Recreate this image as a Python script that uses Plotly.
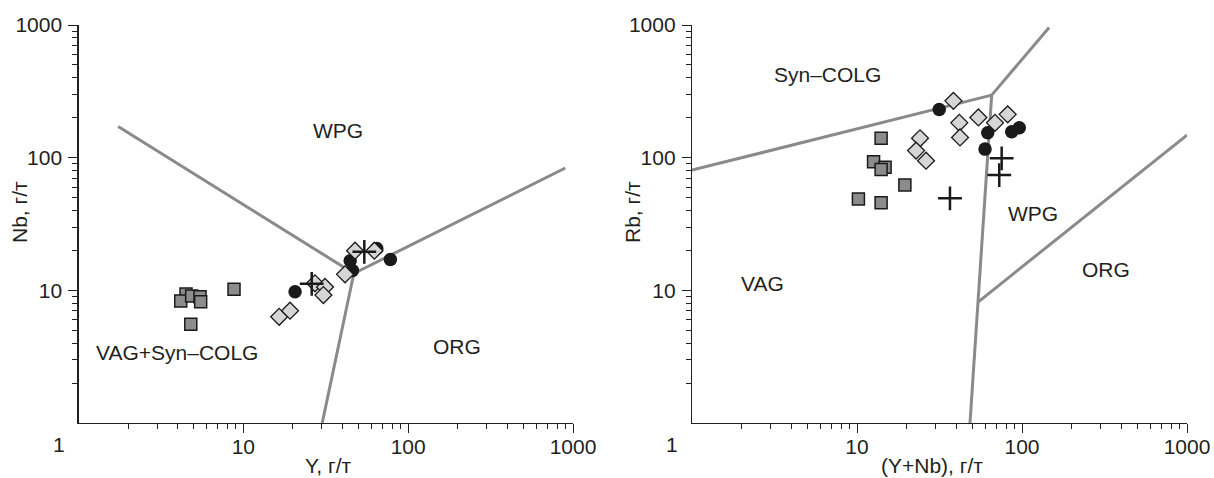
import plotly.graph_objects as go

# ---------------- data: left panel (Nb vs Y) ----------------
L_sq_x = [4.49, 4.17, 4.86, 5.46, 5.51, 4.80, 8.78]
L_sq_y = [9.38, 8.30, 9.06, 8.95, 8.20, 5.54, 10.2]
L_di_x = [16.5, 19.2, 27.2, 31.3, 30.6, 41.4, 47.6, 62.4]
L_di_y = [6.32, 7.02, 11.3, 10.6, 9.22, 13.2, 19.9, 19.9]
L_ci_x = [20.6, 44.5, 45.9, 78.0, 64.5]
L_ci_y = [9.76, 16.7, 14.1, 17.1, 20.7]
L_cr_x = [26.0, 54.2]
L_cr_y = [11.2, 19.5]

# boundary lines (left)
L_b1_x = [1.74, 46.8]; L_b1_y = [172, 13.4]
L_b2_x = [46.8, 898];  L_b2_y = [13.4, 83.6]
L_b3_x = [46.8, 30.1]; L_b3_y = [13.4, 1.0]

# ---------------- data: right panel (Rb vs Y+Nb) ----------------
R_sq_x = [14.0, 12.6, 14.8, 14.0, 19.5, 10.2, 14.0]
R_sq_y = [140, 93.1, 84.5, 81.6, 62.2, 48.8, 45.7]
R_di_x = [38.4, 24.1, 22.8, 26.2, 41.7, 42.1, 54.4, 68.6, 81.9]
R_di_y = [268, 140, 113, 94.8, 183, 142, 201, 183, 212]
R_ci_x = [31.5, 62.0, 59.7, 86.6, 96.3]
R_ci_y = [231, 154, 116, 157, 168]
R_cr_x = [75.3, 72.8, 36.6]
R_cr_y = [98.8, 73.9, 49.4]

R_b1_x = [1.0, 65.5];   R_b1_y = [80.5, 296]
R_b2_x = [65.5, 146];   R_b2_y = [296, 959]
R_b3_x = [65.5, 48.4];  R_b3_y = [296, 1.0]
R_b4_x = [54.1, 1000];  R_b4_y = [8.16, 148]

# tick values
major_ticks = [10, 100, 1000]
major_text = ["10", "100", "1000"]
minor_ticks = [m * 10 ** d for d in range(0, 3) for m in range(2, 10)]

W, H = 1214, 478
FONT = "Liberation Sans, Arial, Helvetica, sans-serif"
TXT = "#231f20"
LINE_C = "#8a8a8a"
FS = 21

def fx(px):
    return px / W

def fy(py):
    return 1 - py / H

fig = go.Figure()

def add_panel(xa, ya, lines, sq, di, ci, cr):
    for lx, ly in lines:
        fig.add_trace(go.Scatter(x=lx, y=ly, mode="lines", xaxis=xa, yaxis=ya,
                                 line=dict(color=LINE_C, width=3), showlegend=False,
                                 hoverinfo="skip"))
    fig.add_trace(go.Scatter(x=sq[0], y=sq[1], mode="markers", xaxis=xa, yaxis=ya,
                             marker=dict(symbol="square", size=12, color="#8c8c8c",
                                         line=dict(color="#1a1a1a", width=1.5)),
                             showlegend=False))
    fig.add_trace(go.Scatter(x=ci[0], y=ci[1], mode="markers", xaxis=xa, yaxis=ya,
                             marker=dict(symbol="circle", size=13.5, color="#1a1a1a",
                                         line=dict(color="#1a1a1a", width=0)),
                             showlegend=False))
    fig.add_trace(go.Scatter(x=di[0], y=di[1], mode="markers", xaxis=xa, yaxis=ya,
                             marker=dict(symbol="diamond", size=13, color="#d6d6d6",
                                         line=dict(color="#1a1a1a", width=1.3)),
                             showlegend=False))
    fig.add_trace(go.Scatter(x=cr[0], y=cr[1], mode="markers", xaxis=xa, yaxis=ya,
                             marker=dict(symbol="cross-thin", size=17,
                                         line=dict(color="#1a1a1a", width=2.5)),
                             showlegend=False))

add_panel("x", "y",
          [(L_b1_x, L_b1_y), (L_b2_x, L_b2_y), (L_b3_x, L_b3_y)],
          (L_sq_x, L_sq_y), (L_di_x, L_di_y), (L_ci_x, L_ci_y), (L_cr_x, L_cr_y))
add_panel("x2", "y2",
          [(R_b1_x, R_b1_y), (R_b2_x, R_b2_y), (R_b3_x, R_b3_y), (R_b4_x, R_b4_y)],
          (R_sq_x, R_sq_y), (R_di_x, R_di_y), (R_ci_x, R_ci_y), (R_cr_x, R_cr_y))

def axis_common(standoff):
    return dict(type="log", range=[0, 3], showline=True, linecolor="#231f20", linewidth=1.2,
                showgrid=False, zeroline=False, ticks="outside", ticklen=9, tickwidth=1,
                tickcolor="#231f20", tickvals=major_ticks, ticktext=major_text,
                tickfont=dict(family=FONT, size=FS, color=TXT),
                ticklabelstandoff=standoff, automargin=False,
                minor=dict(tickvals=minor_ticks, ticks="outside", ticklen=5,
                           tickwidth=1, tickcolor="#231f20", showgrid=False),
                mirror=False, fixedrange=True)

y_dom = [fy(423), fy(25)]
fig.update_layout(
    width=W, height=H, margin=dict(l=0, r=0, t=0, b=0, autoexpand=False),
    paper_bgcolor="white", plot_bgcolor="white", hovermode=False,
    font=dict(family=FONT, size=FS, color=TXT),
    xaxis=dict(domain=[fx(78.5), fx(573)], anchor="y", **axis_common(-4)),
    yaxis=dict(domain=y_dom, anchor="x", **axis_common(2)),
    xaxis2=dict(domain=[fx(692), fx(1187)], anchor="y2", **axis_common(-4)),
    yaxis2=dict(domain=y_dom, anchor="x2", **axis_common(2)),
)

def px_ann(text, px, py, angle=0):
    fig.add_annotation(text=text, x=fx(px), y=fy(py), xref="paper", yref="paper",
                       showarrow=False, textangle=angle,
                       font=dict(family=FONT, size=FS, color=TXT),
                       xanchor="center", yanchor="middle")

# corner "1" labels and axis titles
px_ann("1", 59, 444)
px_ann("1", 672, 444)
px_ann("Y, г/т", 328, 465)
px_ann("(Y+Nb), г/т", 932, 465)
px_ann("Nb, г/т", 20, 212, -90)
px_ann("Rb, г/т", 633, 212, -90)

def data_ann(text, xa, ya, lx, ly):
    fig.add_annotation(text=text, x=lx, y=ly, xref=xa, yref=ya, showarrow=False,
                       font=dict(family=FONT, size=FS, color=TXT))

data_ann("WPG", "x", "y", 1.575, 2.208)
data_ann("ORG", "x", "y", 2.296, 0.580)
data_ann("VAG+Syn–COLG", "x", "y", 0.598, 0.535)
data_ann("Syn–COLG", "x2", "y2", 0.824, 2.630)
data_ann("WPG", "x2", "y2", 2.068, 1.580)
data_ann("VAG", "x2", "y2", 0.430, 1.055)
data_ann("ORG", "x2", "y2", 2.507, 1.160)

fig.write_html(
    "out.html",
    config={"displayModeBar": False, "staticPlot": True},
    post_script="document.body.style.margin='0';document.body.style.overflow='hidden';"
                "document.documentElement.style.overflow='hidden';",
)
